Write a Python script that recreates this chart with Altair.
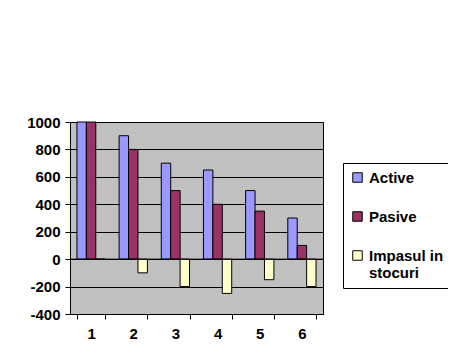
import altair as alt
import pandas as pd

categories = ["1", "2", "3", "4", "5", "6"]
active = [1000, 900, 700, 650, 500, 300]
pasive = [1000, 800, 500, 400, 350, 100]
impasul = [0, -100, -200, -250, -150, -200]
series = ["Active", "Pasive", "Impasul in stocuri"]
colors = ["#9999FF", "#993366", "#FFFFCC"]
y_ticks = [-400, -200, 0, 200, 400, 600, 800, 1000]

rows = []
for s, vals in zip(series, [active, pasive, impasul]):
    for c, v in zip(categories, vals):
        rows.append({"cat": c, "series": s, "value": v})
df = pd.DataFrame(rows)

font = "Liberation Sans"

y_scale = alt.Scale(domain=[-400, 1000], nice=False)
y_axis = alt.Axis(values=y_ticks, labelFont=font, labelFontSize=15,
                  labelFontWeight="bold", labelColor="black", domainColor="black",
                  tickColor="black", gridColor="black", gridOpacity=1, labelPadding=5,
                  labelOverlap=False, labelFlush=False, labelExpr="'' + datum.value")

bars = alt.Chart(df).mark_bar(stroke="black", strokeWidth=1).encode(
    x=alt.X("cat:N", sort=categories, title=None,
            scale=alt.Scale(paddingInner=0.33, paddingOuter=0.165),
            axis=alt.Axis(labelAngle=0, labelFont=font, labelFontSize=15, labelFontWeight="bold",
                          labelColor="black", domainColor="black", tickColor="black",
                          tickBand="extent", grid=False, labelPadding=7)),
    xOffset=alt.XOffset("series:N", sort=series),
    y=alt.Y("value:Q", title=None, scale=y_scale, axis=y_axis),
    color=alt.Color("series:N", sort=series, scale=alt.Scale(domain=series, range=colors),
                    legend=alt.Legend(title=None, orient="none", legendX=273, legendY=41,
                                      symbolType="square", symbolSize=90, symbolStrokeColor="black",
                                      symbolStrokeWidth=1, labelFont=font, labelFontSize=15,
                                      labelFontWeight="bold", labelColor="black",
                                      labelExpr="datum.label == 'Impasul in stocuri' ? ['Impasul in', 'stocuri'] : datum.label",
                                      rowPadding=23, padding=7, strokeColor="black",
                                      labelLimit=200, labelOffset=4)),
)

zero = alt.Chart(pd.DataFrame({"z": [0]})).mark_rule(color="black").encode(
    y=alt.Y("z:Q", title=None, scale=y_scale, axis=y_axis))

chart = alt.layer(bars, zero).properties(
    width=253, height=192,
    background="white",
    autosize=alt.AutoSizeParams(type="none"),
    padding={"left": 62, "top": 114, "right": 125, "bottom": 42},
).configure_view(fill="#C0C0C0", stroke="black")

chart.save("out.html", embed_options={"renderer": "svg", "actions": False})
